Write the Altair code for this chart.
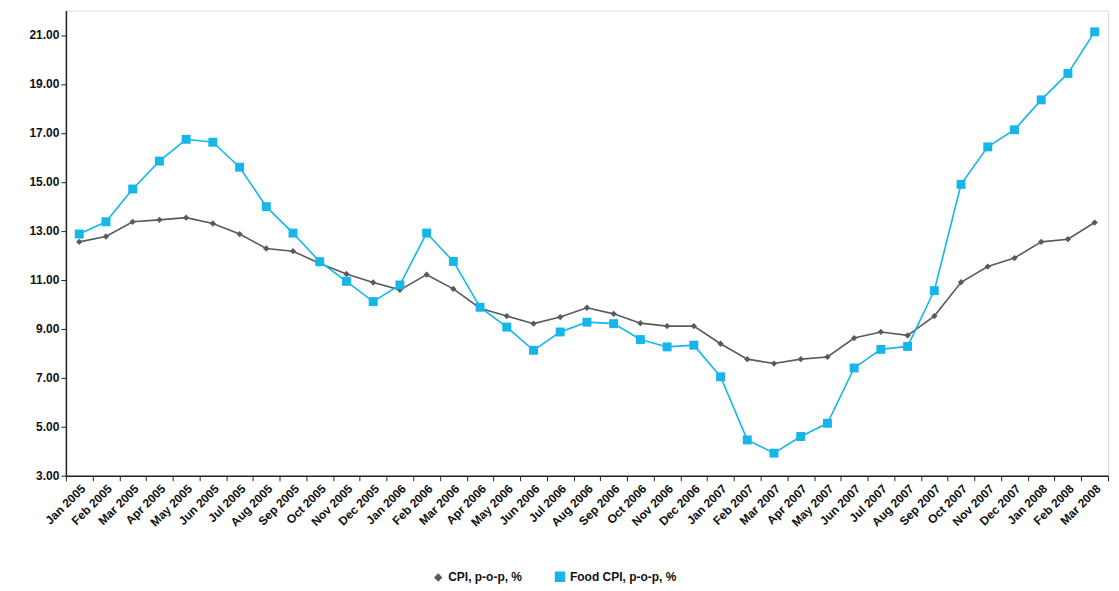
import altair as alt
import pandas as pd

months = ["Jan", "Feb", "Mar", "Apr", "May", "Jun", "Jul", "Aug", "Sep", "Oct", "Nov", "Dec"]
periods = [f"{m} {y}" for y in (2005, 2006, 2007) for m in months] + ["Jan 2008", "Feb 2008", "Mar 2008"]

cpi = [12.55, 12.77, 13.37, 13.45, 13.54, 13.30, 12.87, 12.28, 12.17, 11.67, 11.24, 10.89,
       10.59, 11.21, 10.63, 9.84, 9.52, 9.21, 9.48, 9.86, 9.61, 9.23, 9.11, 9.11,
       8.39, 7.76, 7.58, 7.76, 7.85, 8.62, 8.87, 8.73, 9.52, 10.90, 11.54, 11.89,
       12.55, 12.66, 13.34]
food_cpi = [12.87, 13.37, 14.71, 15.85, 16.74, 16.62, 15.60, 13.99, 12.91, 11.74, 10.94, 10.11,
            10.79, 12.91, 11.75, 9.88, 9.07, 8.12, 8.87, 9.27, 9.21, 8.56, 8.26, 8.33,
            7.04, 4.46, 3.92, 4.60, 5.14, 7.40, 8.16, 8.28, 10.56, 14.90, 16.43, 17.13,
            18.35, 19.43, 21.13]

series_names = ["CPI, p-o-p, %", "Food CPI, p-o-p, %"]
y_ticks = [3, 5, 7, 9, 11, 13, 15, 17, 19, 21]

rows = []
for i, p in enumerate(periods):
    rows.append({"period": p, "order": i, "series": series_names[0], "value": cpi[i]})
    rows.append({"period": p, "order": i, "series": series_names[1], "value": food_cpi[i]})
df = pd.DataFrame(rows)

FONT = "Liberation Sans"

x_enc = alt.X(
    "period:O",
    sort=periods,
    bandPosition=0.5,
    scale=alt.Scale(type="band", paddingInner=0, paddingOuter=0),
    axis=alt.Axis(
        title=None,
        labelAngle=-45,
        labelAlign="right",
        labelBaseline="top",
        labelFontWeight="bold",
        labelFontSize=12,
        labelFont=FONT,
        labelColor="#111111",
        tickBand="extent",
        tickColor="#222222",
        tickSize=5,
        domainColor="#222222",
        domainWidth=1.5,
        labelOverlap=False,
        labelPadding=2,
    ),
)
y_enc = alt.Y(
    "value:Q",
    scale=alt.Scale(domain=[3, 22], nice=False, zero=False),
    axis=alt.Axis(
        title=None,
        values=y_ticks,
        format=".2f",
        grid=False,
        labelFontWeight="bold",
        labelFontSize=12,
        labelFont=FONT,
        labelColor="#111111",
        tickColor="#222222",
        tickSize=5,
        domainColor="#222222",
        domainWidth=1.5,
    ),
)
color_enc = alt.Color(
    "series:N",
    scale=alt.Scale(domain=series_names, range=["#5a5a5a", "#16b6ea"]),
    legend=alt.Legend(
        orient="none",
        legendX=367,
        legendY=561,
        title=None,
        direction="horizontal",
        labelFont=FONT,
        labelFontSize=12,
        labelFontWeight="bold",
        labelColor="#111111",
        columnPadding=30,
        symbolStrokeWidth=1.5,
    ),
)
shape_enc = alt.Shape(
    "series:N",
    scale=alt.Scale(domain=series_names, range=["diamond", "square"]),
    legend=alt.Legend(orient="none", legendX=367, legendY=561, title=None, direction="horizontal"),
)

base = alt.Chart(df).encode(x=x_enc, y=y_enc, color=color_enc)
lines = base.mark_line(strokeWidth=1.6)
points = base.mark_point(filled=True, opacity=1).encode(
    shape=shape_enc,
    size=alt.Size("series:N", scale=alt.Scale(domain=series_names, range=[40, 80]), legend=None),
)

chart = (
    alt.layer(lines, points)
    .properties(width=1044, height=466, padding={"top": 2, "left": 20, "right": 2, "bottom": 2})
    .configure_view(strokeWidth=0)
    .configure(background="white")
)

chart.save("out.html", embed_options={"renderer": "svg", "actions": False})
